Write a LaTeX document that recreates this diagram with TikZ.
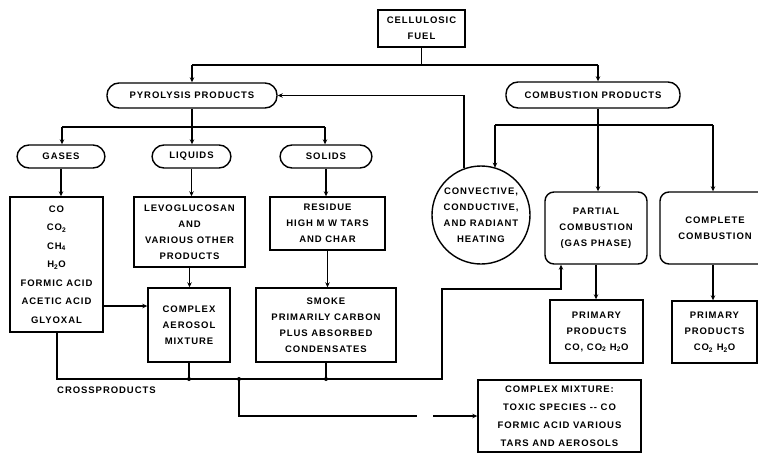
\documentclass[tikz,border=0pt]{standalone}
\usepackage{fontspec}
\setmainfont{Liberation Sans}[LetterSpace=10, BoldFont={Liberation Sans Bold}, BoldFeatures={LetterSpace=10}]
\usetikzlibrary{arrows.meta}
\begin{document}
\begin{tikzpicture}[x=1pt,y=-1pt,
  every node/.style={font=\fontsize{9.5}{16}\selectfont\bfseries, align=center, inner sep=0pt},
  box/.style={draw, line width=1.4pt},
  pill/.style={draw, line width=1.4pt, rounded corners=12pt},
  rbox/.style={draw, line width=1.4pt, rounded corners=9pt},
  ln/.style={line width=1.4pt},
  arr/.style={line width=1.4pt, -{Stealth[length=5pt,width=4.5pt]}},
  dot/.style={circle, fill, minimum size=4pt, inner sep=0pt}]
\useasboundingbox (0,0) rectangle (758,453);
\clip (0,0) rectangle (758,453);
% nodes
\node[box, minimum width=87pt, minimum height=37pt] (fuel) at (421.5,28.5) {CELLULOSIC\\FUEL};
\node[pill, minimum width=170pt, minimum height=25pt] (pyro) at (192,95.5) {PYROLYSIS PRODUCTS};
\node[pill, minimum width=174pt, minimum height=26pt] (comb) at (593,95) {COMBUSTION PRODUCTS};
\node[pill, minimum width=88pt, minimum height=23pt] (gases) at (61,156.5) {GASES};
\node[pill, minimum width=79pt, minimum height=23pt] (liquids) at (191.5,156.5) {LIQUIDS};
\node[pill, minimum width=92pt, minimum height=23pt] (solids) at (326,156.5) {SOLIDS};
\node[box, minimum width=93pt, minimum height=135pt, font=\fontsize{9.5}{18.5}\selectfont\bfseries] (gaslist) at (56.5,264.5)
  {CO\\CO\textsubscript{2}\\CH\textsubscript{4}\\H\textsubscript{2}O\\FORMIC ACID\\ACETIC ACID\\GLYOXAL};
\node[box, minimum width=111pt, minimum height=70pt] (liqlist) at (189.5,232) {LEVOGLUCOSAN\\AND\\VARIOUS OTHER\\PRODUCTS};
\node[box, minimum width=115pt, minimum height=53pt] (residue) at (327.5,223.5) {RESIDUE\\HIGH M W TARS\\AND CHAR};
\node[box, minimum width=82pt, minimum height=74pt] (aerosol) at (189,325) {COMPLEX\\AEROSOL\\MIXTURE};
\node[box, minimum width=140pt, minimum height=74pt] (smoke) at (326,325) {SMOKE\\PRIMARILY CARBON\\PLUS ABSORBED\\CONDENSATES};
\node[draw, circle, line width=1.4pt, minimum size=98pt] (heat) at (481,215) {CONVECTIVE,\\CONDUCTIVE,\\AND RADIANT\\HEATING};
\node[rbox, minimum width=102pt, minimum height=72pt] (partial) at (596,228) {PARTIAL\\COMBUSTION\\(GAS PHASE)};
\node[rbox, minimum width=110pt, minimum height=72pt] (complete) at (715,228) {COMPLETE\\COMBUSTION};
\node[box, minimum width=93pt, minimum height=63pt] (prim1) at (596.5,331.5) {PRIMARY\\PRODUCTS\\CO, CO\textsubscript{2} H\textsubscript{2}O};
\node[box, minimum width=85pt, minimum height=62pt] (prim2) at (714.5,332) {PRIMARY\\PRODUCTS\\CO\textsubscript{2} H\textsubscript{2}O};
\node[box, minimum width=163pt, minimum height=72pt, font=\fontsize{9.5}{18}\selectfont\bfseries] (mixture) at (559.5,416) {COMPLEX MIXTURE:\\TOXIC SPECIES -{}- CO\\FORMIC ACID VARIOUS\\TARS AND AEROSOLS};
\node[anchor=west] (cp) at (57,390) {CROSSPRODUCTS};
% trunk
\coordinate (t1) at (192,65); \coordinate (t2) at (598,65);
\draw[ln] (fuel.south) -- (fuel.south |- t1);
\draw[ln] (t1) -- (t2);
\draw[arr] (t1) -- (pyro.north);
\draw[arr] (t2) -- (t2 |- comb.north);
% pyrolysis branches
\coordinate (p1) at (62,127); \coordinate (p2) at (325,127);
\draw[ln] (pyro.south) -- (pyro.south |- p1);
\draw[ln] (p1) -- (p2);
\draw[arr] (p1) -- (p1 |- gases.north);
\draw[arr] (pyro.south |- p1) -- (pyro.south |- liquids.north);
\draw[arr] (p2) -- (p2 |- solids.north);
\draw[arr] (gases.south) -- (gases.south |- gaslist.north);
\draw[arr] (liquids.south) -- (liquids.south |- liqlist.north);
\draw[arr] (solids.south) -- (solids.south |- residue.north);
\coordinate (g1) at (103,306);
\draw[arr] (g1) -- (g1 -| aerosol.west);
\draw[arr] (liqlist.south) -- (liqlist.south |- aerosol.north);
\draw[arr] (residue.south) -- (residue.south |- smoke.north);
% combustion branches
\coordinate (c0) at (598,125); \coordinate (c1) at (495,125); \coordinate (c2) at (713,125);
\draw[ln] (c0 |- comb.south) -- (c0);
\draw[ln] (c1) -- (c2);
\draw[arr] (c1) -- (c1 |- heat.72);
\draw[arr] (c0) -- (c0 |- partial.north);
\draw[arr] (c2) -- (c2 |- complete.north);
\draw[arr] (heat.110) -- (heat.110 |- pyro.east) -- (pyro.east);
\draw[arr] (partial.south) -- (partial.south |- prim1.north);
\draw[arr] (complete.south -| c2) -- (c2 |- prim2.north);
% crossproducts
\coordinate (x1) at (57,379); \coordinate (x2) at (442,379);
\coordinate (x3) at (442,289); \coordinate (x4) at (561,289);
\draw[arr] (x1 |- gaslist.south) -- (x1) -- (x2) -- (x3) -- (x4) -- (x4 |- partial.south);
\draw[ln] (aerosol.south) -- (aerosol.south |- x1) node[dot] {};
\draw[ln] (smoke.south) -- (smoke.south |- x1) node[dot] {};
\coordinate (j) at (239,379);
\node[dot] at (j) {};
\coordinate (gap1) at (417,0); \coordinate (gap2) at (433,0);
\draw[ln] (j) -- (j |- mixture.west) -- (gap1 |- mixture.west);
\draw[arr] (gap2 |- mixture.west) -- (mixture.west);
\end{tikzpicture}
\end{document}
